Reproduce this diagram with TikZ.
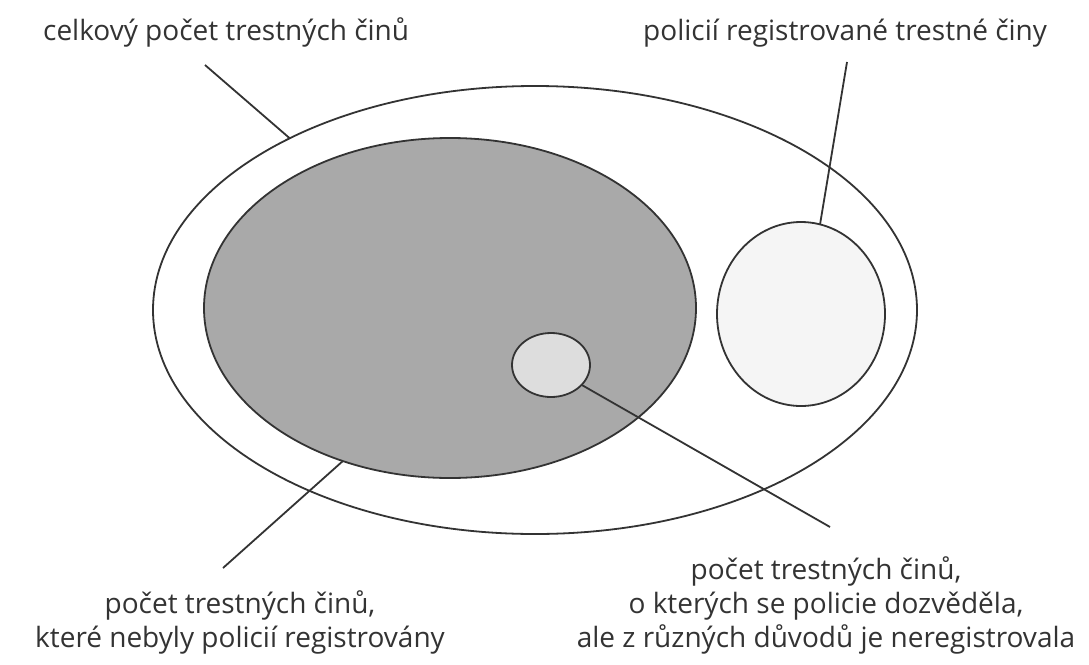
\documentclass[tikz,border=0pt]{standalone}
\usepackage{fontspec}
\setmainfont{Open Sans}
\usetikzlibrary{shapes.geometric}

\definecolor{inkgray}{HTML}{333333}
\definecolor{shadegray}{HTML}{A9A9A9}
\definecolor{softgray}{HTML}{DDDDDD}
\definecolor{palegray}{HTML}{F5F5F5}

\tikzset{
    set/.style={ellipse, draw=inkgray, line width=1.8pt, inner sep=0pt, outer sep=0pt},
    lbl/.style={inner sep=0pt, text=inkgray, align=center,
        font=\fontsize{28}{34}\selectfont},
    lead/.style={draw=inkgray, line width=1.8pt}
}

\begin{document}
\begin{tikzpicture}[x=1pt,y=-1pt]
            \useasboundingbox (0,0) rectangle (1089,664);
            \fill[white] (0,0) rectangle (1089,664);

            % the sets
            \node[set, minimum width=764pt, minimum height=448pt]
                (total) at (535,310) {};
            \node[set, fill=shadegray, minimum width=492pt, minimum height=340pt]
                (unreg) at (450,308) {};
            \node[set, fill=softgray, minimum width=78pt, minimum height=64pt]
                (known) at (551,365) {};
            \node[set, fill=palegray, minimum width=168pt, minimum height=184pt]
                (reg) at (801,314) {};

            % labels
            \node[lbl, anchor=base west] (totallbl) at (43,40)
                {celkový počet trestných činů};
            \node[lbl, anchor=base west] (reglbl) at (643,40)
                {policií registrované trestné činy};
            \node[lbl, anchor=south] (unreglbl) at (240,654)
                {počet trestných činů,\\které nebyly policií registrovány};
            \node[lbl, anchor=south] (knownlbl) at (826,654)
                {počet trestných činů,\\o kterých se policie dozvěděla,\\ale z různých důvodů je neregistrovala};

            % free ends of the leaders
            \coordinate (totalend) at (205,65);
            \coordinate (regend) at (847,62);
            \coordinate (unregend) at (223,568);
            \coordinate (knownend) at (830,527);

            \draw[lead] (totalend) -- (total.145.25);
            \draw[lead] (regend) -- (reg.78.7);
            \draw[lead] (unregend) -- (unreg.235.3);
            \draw[lead] (known.327.2) -- (knownend);
        \end{tikzpicture}
\end{document}
